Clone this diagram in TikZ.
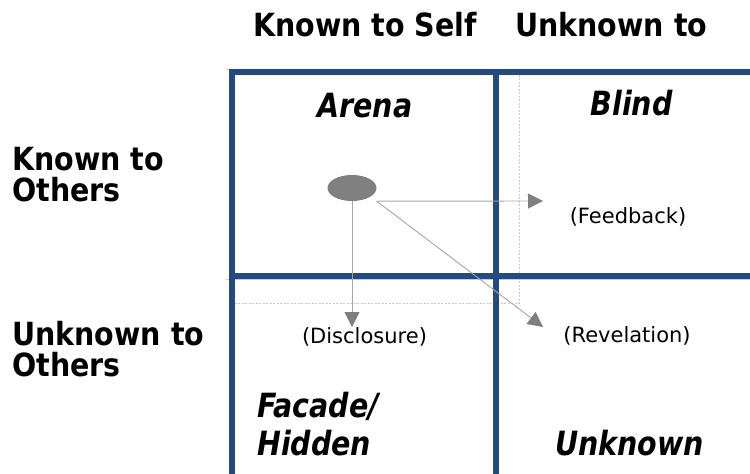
\documentclass[tikz,border=0pt]{standalone}
\usepackage{fontspec}
\setmainfont{DejaVu Sans}
\usetikzlibrary{arrows.meta,shapes.geometric}
\definecolor{gridblue}{RGB}{37,74,125}
\definecolor{gridlight}{RGB}{190,205,225}
\definecolor{arrline}{RGB}{166,166,166}
\definecolor{arrhead}{RGB}{128,128,128}
\definecolor{dashgray}{RGB}{200,200,200}
\newcommand\vstretchA[1]{\scalebox{1}[1.12]{#1}}
\newcommand\vstretchB[1]{\scalebox{1}[1.17]{#1}}
\tikzset{
  thickgrid/.style={draw=gridblue, line width=6pt},
  lightgrid/.style={draw=gridlight, line width=0.8pt},
  headtxt/.style={inner sep=0pt, anchor=base west, font=\fontsize{28.5}{31}\selectfont\bfseries},
  quadtxt/.style={inner sep=0pt, anchor=base, font=\fontsize{28.5}{31}\selectfont\bfseries\itshape},
  smalltxt/.style={inner sep=0pt, anchor=base, font=\fontsize{21}{24}\selectfont},
  flow/.style={draw=arrline, line width=0.9pt, -{Triangle[length=15pt,width=15pt,fill=arrhead,color=arrhead]}},
}
\begin{document}
\begin{tikzpicture}[x=1pt,y=-1pt]
\useasboundingbox (0,0) rectangle (750,474);
% light edges
\draw[lightgrid] (226,69) -- (750,69);
\draw[lightgrid] (226,279.5) -- (750,279.5);
% dashed selection box
\draw[draw=dashgray, line width=0.8pt, dash pattern=on 2pt off 1.5pt] (232,71) rectangle (519,303);
% grid
\draw[thickgrid, line join=miter] (232,480) -- (232,72) -- (756,72);
\draw[thickgrid] (496,69) -- (496,480);
\draw[thickgrid] (229,276) -- (756,276);
% header texts
\node[headtxt] (hks) at (253,36) {\vstretchA{Known to Self}};
\node[headtxt] (hus) at (515,36) {\vstretchA{Unknown to}};
\node[headtxt] (ko1) at (12,170) {\vstretchA{Known to}};
\node[headtxt] (ko2) at (12,201) {\vstretchA{Others}};
\node[headtxt] (uo1) at (12,345) {\vstretchA{Unknown to}};
\node[headtxt] (uo2) at (12,376) {\vstretchA{Others}};
% quadrant titles
\node[quadtxt] (arena) at (365,117) {\vstretchB{Arena}};
\node[quadtxt] (blind) at (631.5,115) {\vstretchB{Blind}};
\node[quadtxt, anchor=base west] (fac1) at (257,417) {\vstretchB{Facade/}};
\node[quadtxt, anchor=base west] (fac2) at (257,455) {\vstretchB{Hidden}};
\node[quadtxt] (unk) at (629.5,455) {\vstretchB{Unknown}};
% small labels
\node[smalltxt] (feedback) at (628,223) {(Feedback)};
\node[smalltxt] (disclosure) at (364.5,343) {(Disclosure)};
\node[smalltxt] (revelation) at (627,342) {(Revelation)};
% self ellipse
\node[draw=none, fill=arrhead, ellipse, minimum width=49pt, minimum height=26pt, inner sep=0pt] (self) at (352,188) {};
\coordinate (src) at (self.south -| self.east);
\coordinate (fbtip) at (543,201);
\coordinate (rvtip) at (543,327);
\coordinate (dstip) at (self.south |- 0,327);
\draw[flow] (self.south) -- (dstip);
\draw[flow] (src) -- (fbtip);
\draw[flow] (src) -- (rvtip);
\end{tikzpicture}
\end{document}
